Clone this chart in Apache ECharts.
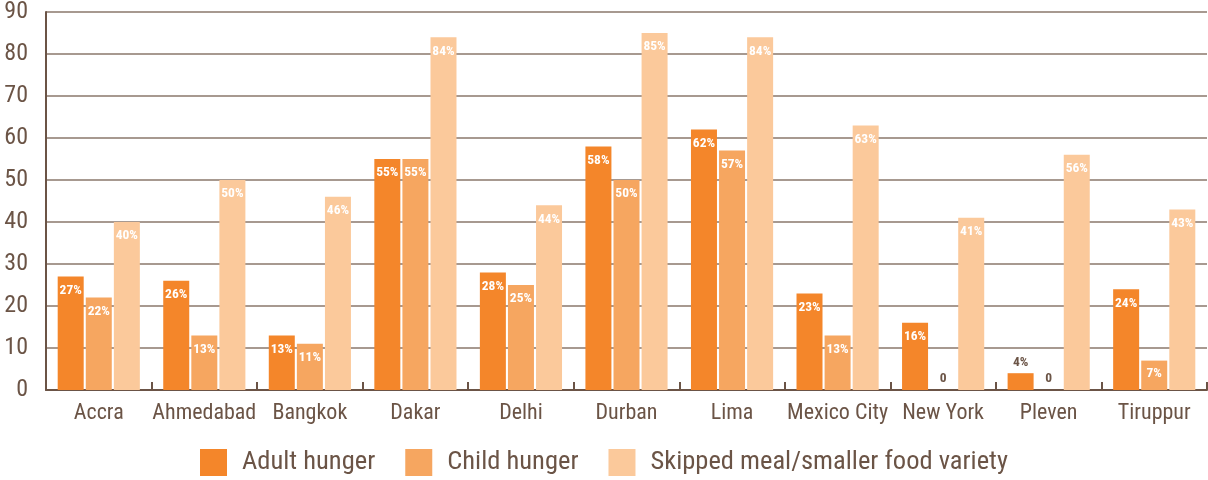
<!DOCTYPE html>
<html>
<head>
<meta charset="utf-8">
<script src="https://cdn.jsdelivr.net/npm/echarts@6/dist/echarts.min.js"></script>
<style>
  html, body { margin: 0; padding: 0; background: #fff; }
  #chart { width: 1208px; height: 480px; }
</style>
</head>
<body>
<div id="chart"></div>
<script>
const cities = ['Accra', 'Ahmedabad', 'Bangkok', 'Dakar', 'Delhi', 'Durban', 'Lima', 'Mexico City', 'New York', 'Pleven', 'Tiruppur']
const adultHunger = [27, 26, 13, 55, 28, 58, 62, 23, 16, 4, 24]
const childHunger = [22, 13, 11, 55, 25, 50, 57, 13, 0, 0, 7]
const skippedMeal = [40, 50, 46, 84, 44, 85, 84, 63, 41, 56, 43]

const brown = '#6b5446'
const fontFamily = "'Roboto Condensed', 'Liberation Sans Narrow', 'DejaVu Sans Condensed', Roboto, sans-serif"

// small values get their label above the bar in brown
const toData = (values) => values.map(v => {
  if (v < 5) {
    return {value: v, label: {position: 'top', color: brown, distance: 4}}
  }
  if (v < 10) {
    return {value: v, label: {distance: 6}}
  }
  return v
})

const makeSeries = (name, values, color) => ({
  name,
  type: 'bar',
  data: toData(values),
  barWidth: 26,
  barGap: '8%',
  itemStyle: {color},
  labelLayout: {hideOverlap: false},
  label: {
    show: true,
    position: 'insideTop',
    distance: 7,
    color: '#fff',
    fontWeight: 'bold',
    fontSize: 13.5,
    fontFamily,
    overflow: 'none',
    formatter: (p) => p.value === 0 ? '0' : p.value + '%'
  }
})

const chart = echarts.init(document.getElementById('chart'))
chart.setOption({
  animation: false,
  textStyle: {fontFamily},
  grid: {left: 46, right: 1, top: 9, bottom: 90},
  legend: {
    bottom: -1,
    left: 'center',
    itemWidth: 27,
    itemHeight: 27,
    itemGap: 30,
    icon: 'rect',
    textStyle: {color: brown, fontSize: 26.5, fontFamily, padding: [0, 0, 0, 10]},
    data: ['Adult hunger', 'Child hunger', 'Skipped meal/smaller food variety']
  },
  xAxis: {
    type: 'category',
    data: cities,
    axisLine: {lineStyle: {color: brown, width: 2}},
    axisTick: {show: true, inside: true, length: 8, lineStyle: {color: brown, width: 2}},
    axisLabel: {color: brown, fontSize: 22, margin: 12, interval: 0, fontFamily}
  },
  yAxis: {
    type: 'value',
    min: 0,
    max: 90,
    interval: 10,
    axisLine: {show: true, lineStyle: {color: brown, width: 2}},
    axisTick: {show: false},
    axisLabel: {color: brown, fontSize: 24, margin: 18, fontFamily},
    splitLine: {lineStyle: {color: '#8a776b', width: 1.5}}
  },
  series: [
    makeSeries('Adult hunger', adultHunger, '#f4862a'),
    makeSeries('Child hunger', childHunger, '#f6a660'),
    makeSeries('Skipped meal/smaller food variety', skippedMeal, '#fbc99b')
  ]
})
</script>
</body>
</html>
